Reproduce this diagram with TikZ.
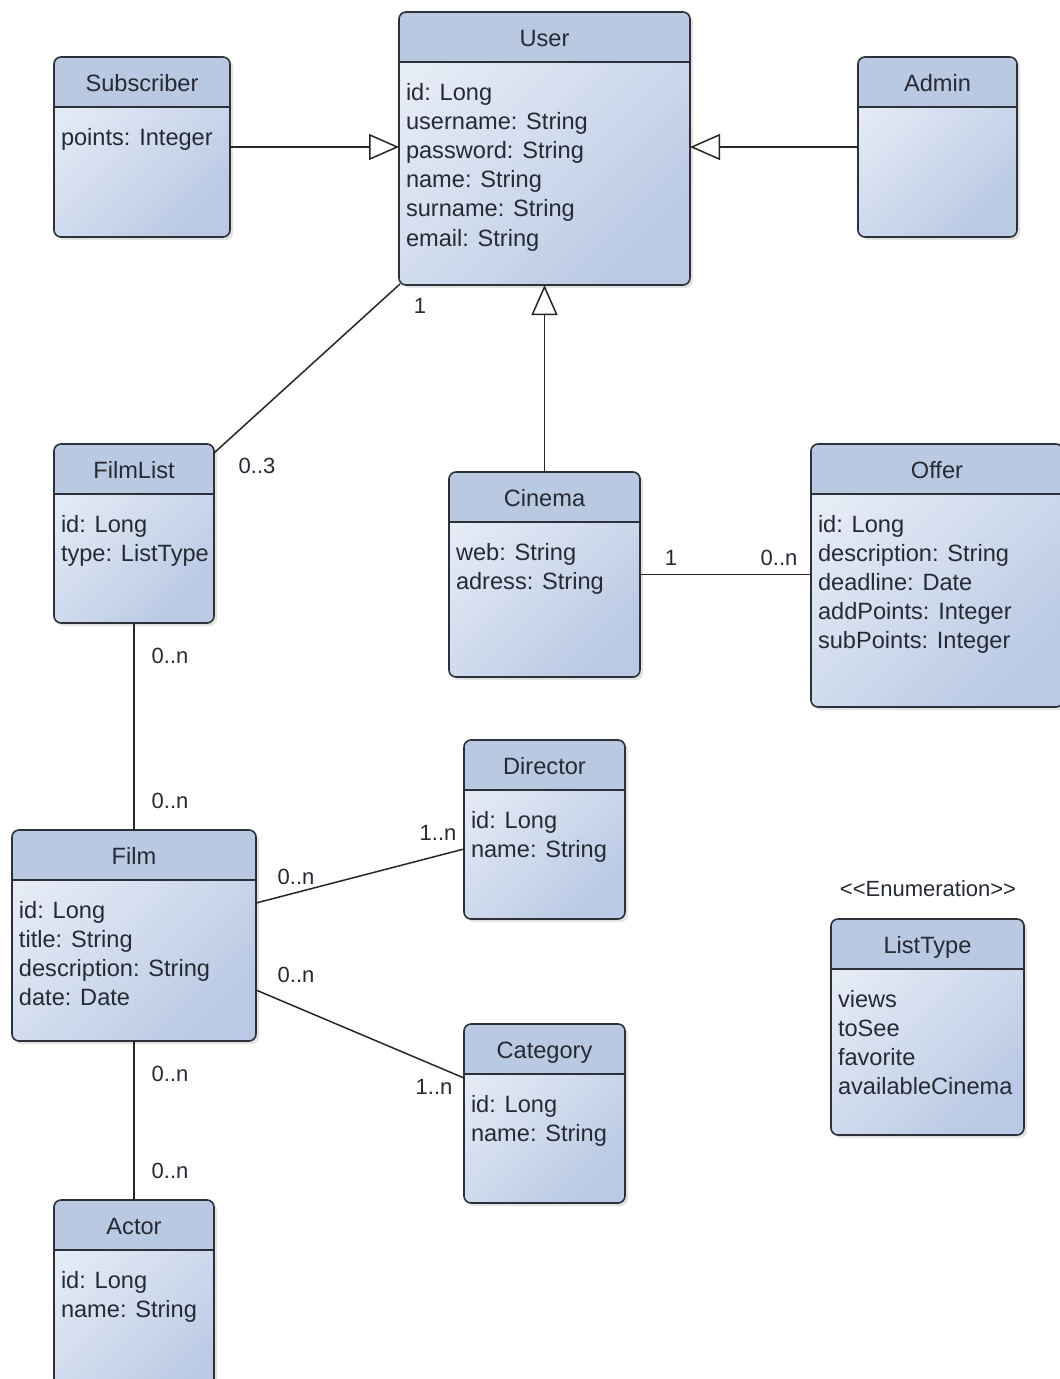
\documentclass[tikz,border=0pt]{standalone}
\usepackage{fontspec}
\setmainfont{Liberation Sans}
\usepackage{tikz}
\usetikzlibrary{arrows.meta,shadows}

\definecolor{headblue}{RGB}{185,201,226}
\definecolor{bodylight}{RGB}{230,236,246}
\definecolor{bodydark}{RGB}{186,202,228}
\definecolor{boxline}{RGB}{45,48,56}
\definecolor{textdark}{RGB}{38,42,52}

% class box: name, x, y, width, height, title, attributes
\newcommand{\umlclass}[7]{%
    \node[classbox, minimum width=#4pt, minimum height=#5pt, anchor=north west] (#1) at (#2,#3) {};
    \begin{scope}
        \clip[rounded corners=7pt] (#1.north west) rectangle (#1.south east);
        \fill[headblue] (#1.north west) rectangle ([yshift=-50pt]#1.north east);
    \end{scope}
    \draw[boxline, line width=1.6pt] ([yshift=-50pt]#1.north west) -- ([yshift=-50pt]#1.north east);
    \draw[boxline, line width=1.6pt, rounded corners=7pt] (#1.north west) rectangle (#1.south east);
    \node[classtitle, anchor=base] (#1-title) at ([yshift=-34pt]#1.north) {#6};
    \node[attrlist, anchor=north west] (#1-attrs) at ([xshift=7pt,yshift=-67.6pt]#1.north west) {\strut#7};
}

\begin{document}
\begin{tikzpicture}[x=1pt, y=-1pt, inner sep=0pt, outer sep=0pt,
    classbox/.style={rectangle, rounded corners=7pt, top color=bodylight, bottom color=bodydark,
        shading angle=45, drop shadow={opacity=0.22, shadow xshift=3pt, shadow yshift=-3pt}},
    classtitle/.style={text=textdark, font=\fontsize{23.6}{29.2}\selectfont},
    attrlist/.style={text=textdark, align=left, font=\fontsize{23.6}{29.2}\selectfont},
    multlabel/.style={text=textdark, font=\fontsize{22}{26}\selectfont},
    assoc/.style={draw=black!85, line width=1.5pt},
    generalize/.style={assoc, -{Triangle[open, length=30pt, width=26pt]}}]
    % page
    \useasboundingbox[fill=white] (0,0) rectangle (1060,1379);

    % classes
    \umlclass{user}{399}{12}{291}{273}{User}{id: Long\\username: String\\password: String\\name: String\\surname: String\\email: String}
    \umlclass{subscriber}{54}{57}{176}{180}{Subscriber}{points: Integer}
    \umlclass{admin}{858}{57}{159}{180}{Admin}{}
    \umlclass{filmlist}{54}{444}{160}{179}{FilmList}{id: Long\\type: ListType}
    \umlclass{cinema}{449}{472}{191}{205}{Cinema}{web: String\\adress: String}
    \umlclass{offer}{811}{444}{252}{263}{Offer}{id: Long\\description: String\\deadline: Date\\addPoints: Integer\\subPoints: Integer}
    \umlclass{director}{464}{740}{161}{179}{Director}{id: Long\\name: String}
    \umlclass{film}{12}{830}{244}{211}{Film}{id: Long\\title: String\\description: String\\date: Date}
    \umlclass{category}{464}{1024}{161}{179}{Category}{id: Long\\name: String}
    \umlclass{listtype}{831}{919}{193}{216}{ListType}{views\\toSee\\favorite\\availableCinema}
    \umlclass{actor}{54}{1200}{160}{215}{Actor}{id: Long\\name: String}

    \node[multlabel] (enum) at (928,889) {{<}{<}Enumeration{>}{>}};

    % generalizations
    \draw[generalize] (subscriber.east) -- (subscriber.east -| user.west);
    \draw[generalize] (admin.west) -- (admin.west -| user.east);
    \draw[generalize] (cinema.north) -- (cinema.north |- user.south);

    % associations
    \draw[assoc] ([xshift=1pt,yshift=1pt]user.south west) -- ([yshift=-9pt]filmlist.north east);
    \draw[assoc] (cinema.east) -- (cinema.east -| offer.west);
    \draw[assoc] (filmlist.south) -- (film.north);
    \draw[assoc] ([yshift=-73pt]film.north east) -- ([yshift=-109pt]director.north west);
    \draw[assoc] ([yshift=-160pt]film.north east) -- ([yshift=-54pt]category.north west);
    \draw[assoc] (film.south) -- (actor.north);

    % multiplicities
    \node[multlabel] (m-user) at (420,306) {1};
    \node[multlabel] (m-filmlist) at (257,466) {0..3};
    \node[multlabel] (m-cinema) at (671,558) {1};
    \node[multlabel] (m-offer) at (779,558) {0..n};
    \node[multlabel] (m-list-film) at (170,656) {0..n};
    \node[multlabel] (m-film-list) at (170,801) {0..n};
    \node[multlabel] (m-film-dir) at (296,877) {0..n};
    \node[multlabel] (m-dir) at (438,833) {1..n};
    \node[multlabel] (m-film-cat) at (296,975) {0..n};
    \node[multlabel] (m-cat) at (434,1087) {1..n};
    \node[multlabel] (m-film-act) at (170,1074) {0..n};
    \node[multlabel] (m-act) at (170,1171) {0..n};
\end{tikzpicture}
\end{document}
